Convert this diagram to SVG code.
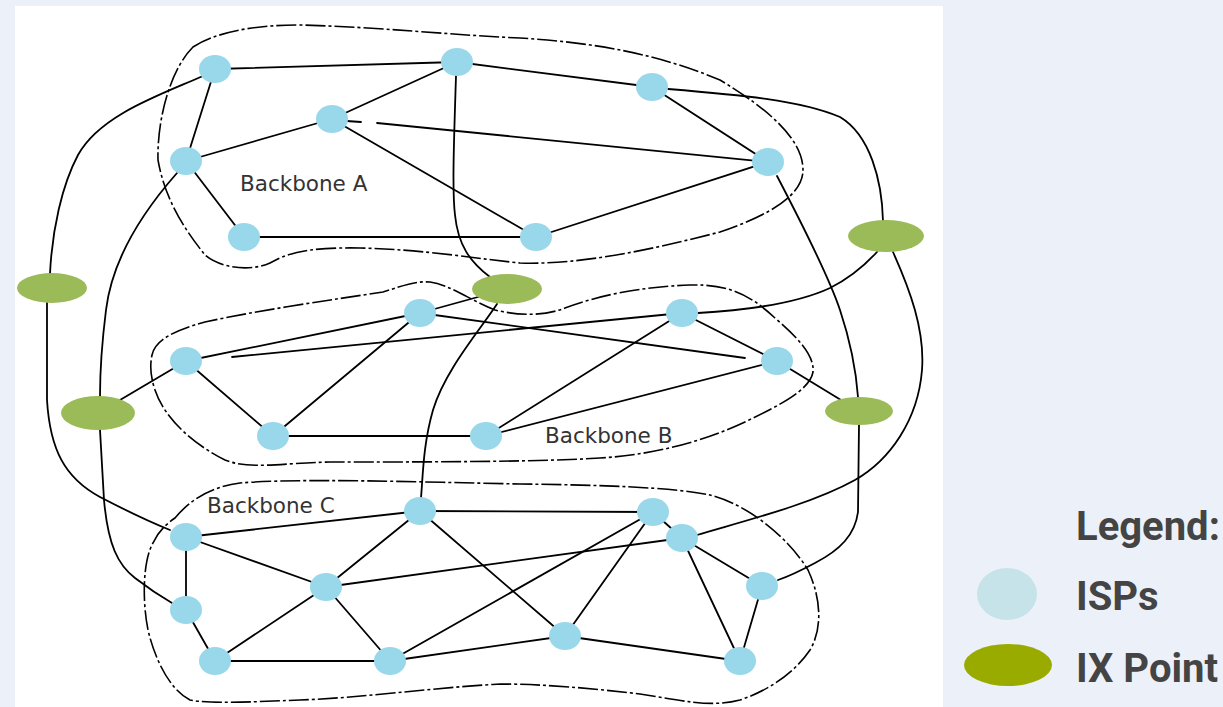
<svg xmlns="http://www.w3.org/2000/svg" width="1223" height="707" viewBox="0 0 1223 707">
<style>
.e{stroke:#000;stroke-width:1.8;fill:none;stroke-linecap:round;stroke-linejoin:round}
.o{stroke:#000;stroke-width:1.6;fill:none;stroke-dasharray:20 3 3 3}
.isp{fill:#98d8ea}
.ix{fill:#9bbb59}
.lbl{font-family:"DejaVu Sans",sans-serif;font-size:21.5px;fill:#333}
.lg{font-family:Roboto,"Liberation Sans",sans-serif;font-weight:bold;font-size:40px;fill:#444}
</style>
<rect width="1223" height="707" fill="#ecf1f9"/>
<rect x="15" y="6" width="928" height="701" fill="#fff"/>

<g id="outlines">
<path class="o" d="M193,47 C215,33 250,25 300,25 C380,27 450,35 520,38 C600,43 660,55 720,80 C770,110 803,140 803,170 C803,195 770,215 720,232 C650,250 580,265 520,263 C470,258 430,250 360,248 C300,247 285,255 270,263 C250,272 220,268 205,255 C185,230 165,200 158,160 C157,120 170,70 193,47 Z"/>
<path class="o" d="M152,355 C155,340 175,330 205,322 C260,310 330,300 383,292 C405,285 415,281 430,282 C450,285 470,300 495,310 C520,316 545,316 565,308 C600,295 640,287 690,285 C730,284 750,295 775,318 C795,335 815,355 813,372 C810,390 780,405 745,422 C700,443 650,455 600,458 C540,462 420,462 330,462 C280,463 250,470 225,460 C195,445 165,420 155,390 C150,375 150,365 152,355 Z"/>
<path class="o" d="M175,518 C190,500 210,487 240,483 C300,478 420,482 520,484 C600,485 670,487 710,495 C750,505 790,540 808,570 C822,600 822,630 810,650 C795,672 770,690 740,700 C710,708 680,700 640,694 C590,688 540,684 500,684 C430,688 360,698 300,700 C250,702 210,704 190,700 C170,690 155,660 148,630 C142,600 143,560 153,543 C158,532 165,525 175,518 Z"/>
</g>

<g id="connectors">
<!-- Backbone A -->
<line class="e" x1="215" y1="69" x2="457" y2="62"/>
<line class="e" x1="215" y1="69" x2="186" y2="161"/>
<line class="e" x1="457" y1="62" x2="332" y2="119"/>
<line class="e" x1="457" y1="62" x2="652" y2="87"/>
<line class="e" x1="332" y1="119" x2="186" y2="161"/>
<line class="e" x1="332" y1="120" x2="361" y2="122"/>
<line class="e" x1="377" y1="123" x2="768" y2="162"/>
<line class="e" x1="332" y1="119" x2="536" y2="237"/>
<line class="e" x1="186" y1="161" x2="244" y2="237"/>
<line class="e" x1="244" y1="237" x2="536" y2="237"/>
<line class="e" x1="536" y1="237" x2="768" y2="162"/>
<line class="e" x1="652" y1="87" x2="768" y2="162"/>
<!-- Backbone B -->
<line class="e" x1="186" y1="361" x2="420" y2="313"/>
<line class="e" x1="232" y1="357" x2="682" y2="313"/>
<line class="e" x1="420" y1="313" x2="745" y2="358"/>
<line class="e" x1="420" y1="313" x2="273" y2="436"/>
<line class="e" x1="186" y1="361" x2="273" y2="436"/>
<line class="e" x1="273" y1="436" x2="486" y2="436"/>
<line class="e" x1="186" y1="361" x2="98" y2="413"/>
<line class="e" x1="682" y1="313" x2="777" y2="361"/>
<line class="e" x1="682" y1="313" x2="486" y2="436"/>
<line class="e" x1="777" y1="361" x2="486" y2="436"/>
<line class="e" x1="777" y1="361" x2="859" y2="411"/>
<line class="e" x1="420" y1="313" x2="507" y2="289"/>
<!-- Backbone C -->
<line class="e" x1="186" y1="537" x2="420" y2="511"/>
<line class="e" x1="420" y1="511" x2="653" y2="512"/>
<line class="e" x1="186" y1="537" x2="326" y2="587"/>
<line class="e" x1="186" y1="537" x2="186" y2="610"/>
<line class="e" x1="186" y1="610" x2="215" y2="661"/>
<line class="e" x1="215" y1="661" x2="326" y2="587"/>
<line class="e" x1="215" y1="661" x2="390" y2="661"/>
<line class="e" x1="326" y1="587" x2="420" y2="511"/>
<line class="e" x1="326" y1="587" x2="682" y2="538"/>
<line class="e" x1="326" y1="587" x2="390" y2="661"/>
<line class="e" x1="420" y1="511" x2="565" y2="636"/>
<line class="e" x1="390" y1="661" x2="653" y2="512"/>
<line class="e" x1="390" y1="661" x2="565" y2="636"/>
<line class="e" x1="565" y1="636" x2="653" y2="512"/>
<line class="e" x1="565" y1="636" x2="740" y2="661"/>
<line class="e" x1="653" y1="512" x2="682" y2="538"/>
<line class="e" x1="682" y1="538" x2="762" y2="586"/>
<line class="e" x1="682" y1="538" x2="740" y2="661"/>
<line class="e" x1="762" y1="586" x2="740" y2="661"/>
<!-- long links -->
<path class="e" d="M203,76 C160,95 100,115 78,155 C62,185 52,230 50,274"/>
<path class="e" d="M177,173 C140,215 112,260 106,310 C101,350 100,375 100,396"/>
<path class="e" d="M456,76 C454,140 452,190 455,215 C458,245 470,262 490,277"/>
<path class="e" d="M668,89 C740,95 800,100 840,117 C870,135 882,180 883,221"/>
<path class="e" d="M777,176 C800,220 830,280 840,310 C850,340 856,370 858,397"/>
<path class="e" d="M497,304 C480,330 445,370 433,410 C423,445 423,475 421,498"/>
<path class="e" d="M698,313 C750,310 800,302 830,288 C850,278 865,265 877,252"/>
<path class="e" d="M893,252 C910,290 925,330 922,370 C918,420 890,460 855,480 C810,505 740,522 697,535"/>
<path class="e" d="M859,425 L858,512 C855,535 840,550 815,563 C800,571 790,576 778,580"/>
<path class="e" d="M47,303 L47,400 C50,450 65,478 100,497 C125,510 145,520 170,530"/>
<path class="e" d="M100,430 L104,500 C108,545 118,565 135,578 C148,588 160,596 172,603"/>
</g>

<g id="backbone-a">
<ellipse id="a1" class="isp" cx="215" cy="69" rx="16" ry="14"/>
<ellipse id="a2" class="isp" cx="457" cy="62" rx="16" ry="14"/>
<ellipse id="a3" class="isp" cx="652" cy="87" rx="16" ry="14"/>
<ellipse id="a4" class="isp" cx="332" cy="119" rx="16" ry="14"/>
<ellipse id="a5" class="isp" cx="186" cy="161" rx="16" ry="14"/>
<ellipse id="a6" class="isp" cx="768" cy="162" rx="16" ry="14"/>
<ellipse id="a7" class="isp" cx="244" cy="237" rx="16" ry="14"/>
<ellipse id="a8" class="isp" cx="536" cy="237" rx="16" ry="14"/>
<text class="lbl" x="240" y="191">Backbone A</text>
</g>
<g id="backbone-b">
<ellipse id="b1" class="isp" cx="420" cy="313" rx="16" ry="14"/>
<ellipse id="b2" class="isp" cx="682" cy="313" rx="16" ry="14"/>
<ellipse id="b3" class="isp" cx="186" cy="361" rx="16" ry="14"/>
<ellipse id="b4" class="isp" cx="777" cy="361" rx="16" ry="14"/>
<ellipse id="b5" class="isp" cx="273" cy="436" rx="16" ry="14"/>
<ellipse id="b6" class="isp" cx="486" cy="436" rx="16" ry="14"/>
<text class="lbl" x="545" y="443">Backbone B</text>
</g>
<g id="backbone-c">
<ellipse id="c1" class="isp" cx="420" cy="511" rx="16" ry="14"/>
<ellipse id="c2" class="isp" cx="653" cy="512" rx="16" ry="14"/>
<ellipse id="c3" class="isp" cx="186" cy="537" rx="16" ry="14"/>
<ellipse id="c4" class="isp" cx="682" cy="538" rx="16" ry="14"/>
<ellipse id="c5" class="isp" cx="326" cy="587" rx="16" ry="14"/>
<ellipse id="c6" class="isp" cx="762" cy="586" rx="16" ry="14"/>
<ellipse id="c7" class="isp" cx="186" cy="610" rx="16" ry="14"/>
<ellipse id="c8" class="isp" cx="565" cy="636" rx="16" ry="14"/>
<ellipse id="c9" class="isp" cx="215" cy="661" rx="16" ry="14"/>
<ellipse id="c10" class="isp" cx="390" cy="661" rx="16" ry="14"/>
<ellipse id="c11" class="isp" cx="740" cy="661" rx="16" ry="14"/>
<text class="lbl" x="207" y="513">Backbone C</text>
</g>
<g id="ix-points">
<ellipse id="ix1" class="ix" cx="52" cy="288" rx="35" ry="15"/>
<ellipse id="ix2" class="ix" cx="507" cy="289" rx="35" ry="15"/>
<ellipse id="ix3" class="ix" cx="886" cy="236" rx="38" ry="16"/>
<ellipse id="ix4" class="ix" cx="98" cy="413" rx="37" ry="17"/>
<ellipse id="ix5" class="ix" cx="859" cy="411" rx="34" ry="14"/>
</g>
<g id="legend">
<text class="lg" x="1076" y="540">Legend:</text>
<ellipse cx="1007" cy="594" rx="30" ry="26" fill="#c5e3e8"/>
<text class="lg" x="1076" y="610">ISPs</text>
<ellipse cx="1008" cy="665" rx="44" ry="21" fill="#9aab00"/>
<text class="lg" x="1076" y="682">IX Point</text>
</g>
</svg>
